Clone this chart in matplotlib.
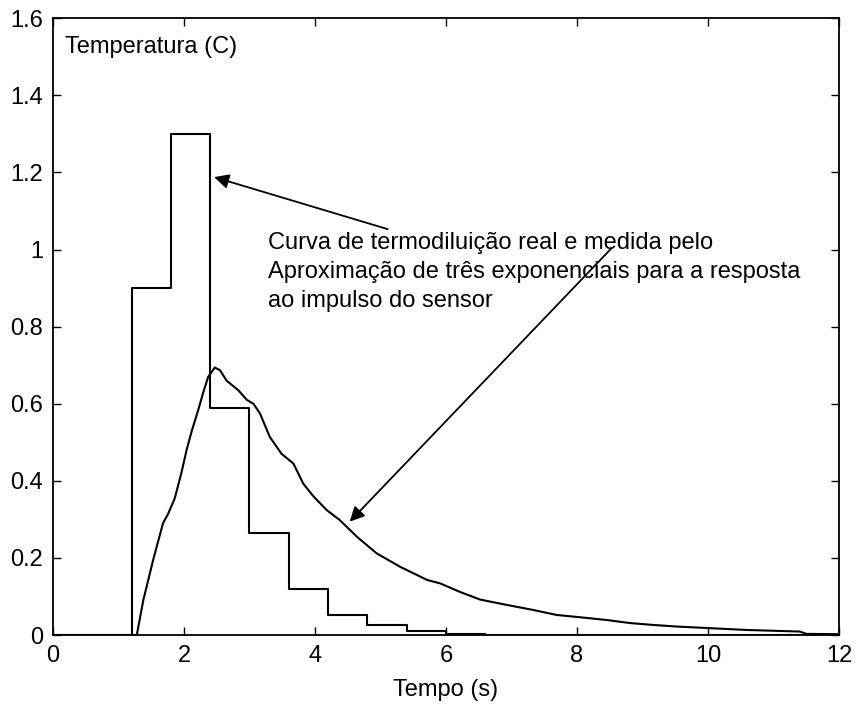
import numpy as np
import matplotlib.pyplot as plt

plt.rcParams['font.family'] = ['Liberation Sans', 'DejaVu Sans']

# measured thermodilution curve (stepped samples)
step_t = [0.0, 1.2, 1.8, 2.4, 3.0, 3.6, 4.2, 4.8, 5.4, 6.0, 6.6, 12.0]
step_v = [0.0, 0.90, 1.30, 0.59, 0.265, 0.12, 0.052, 0.025, 0.010, 0.003, 0.0, 0.0]

# three-exponential approximation of the sensor response
resp_t = [0.0, 1.28, 1.38, 1.53, 1.68, 1.76, 1.86, 1.96, 2.04, 2.12, 2.22, 2.29,
          2.37, 2.47, 2.55, 2.65, 2.83, 2.96, 3.06, 3.16, 3.31, 3.49, 3.67,
          3.82, 3.98, 4.18, 4.38, 4.64, 4.94, 5.30, 5.71, 5.91, 6.21, 6.52,
          6.93, 7.33, 7.69, 8.05, 8.45, 8.81, 9.17, 9.52, 10.0, 10.6, 11.4,
          11.5, 12.0]
resp_v = [0.0, 0.0, 0.091, 0.195, 0.29, 0.315, 0.355, 0.42, 0.48, 0.53, 0.585, 0.627,
          0.67, 0.694, 0.687, 0.66, 0.635, 0.61, 0.60, 0.575, 0.514, 0.47, 0.445,
          0.393, 0.359, 0.324, 0.298, 0.255, 0.212, 0.177, 0.143, 0.134, 0.112, 0.092,
          0.078, 0.065, 0.052, 0.046, 0.039, 0.031, 0.026, 0.022, 0.018, 0.013, 0.009,
          0.003, 0.002]

fs = 17

fig = plt.figure(figsize=(8.57, 7.04), dpi=100)
ax = fig.add_axes([0.0618, 0.098, 0.9172, 0.876])

ax.step(step_t, step_v, where='post', color='k', lw=1.5)
ax.plot(resp_t, resp_v, color='k', lw=1.5)

ax.set_xlim(0, 12)
ax.set_ylim(0, 1.6)
ax.set_xticks(np.arange(0, 13, 2))
ax.set_yticks(np.arange(0, 1.61, 0.2))
ax.set_xticklabels(['0', '2', '4', '6', '8', '10', '12'])
ax.set_yticklabels(['0', '0.2', '0.4', '0.6', '0.8', '1', '1.2', '1.4', '1.6'])
ax.tick_params(direction='in', top=True, right=True, length=6, width=1,
               labelsize=fs, pad=7)
for s in ax.spines.values():
    s.set_linewidth(1.3)

ax.set_xlabel('Tempo (s)', fontsize=fs, labelpad=9)
ax.text(0.18, 1.525, 'Temperatura (C)', fontsize=fs, va='center', ha='left')

ax.text(3.28, 0.941,
        'Curva de termodiluição real e medida pelo\n'
        'Aproximação de três exponenciais para a resposta\n'
        'ao impulso do sensor',
        fontsize=fs, va='center', ha='left', linespacing=1.42)

arrow = dict(arrowstyle='-|>', color='k', lw=1.3, mutation_scale=22,
             shrinkA=0, shrinkB=0)
ax.annotate('', xy=(2.46, 1.188), xytext=(5.11, 1.053), arrowprops=arrow)
ax.annotate('', xy=(4.53, 0.294), xytext=(8.53, 1.004), arrowprops=arrow)

fig.savefig('out.png', dpi=100)
